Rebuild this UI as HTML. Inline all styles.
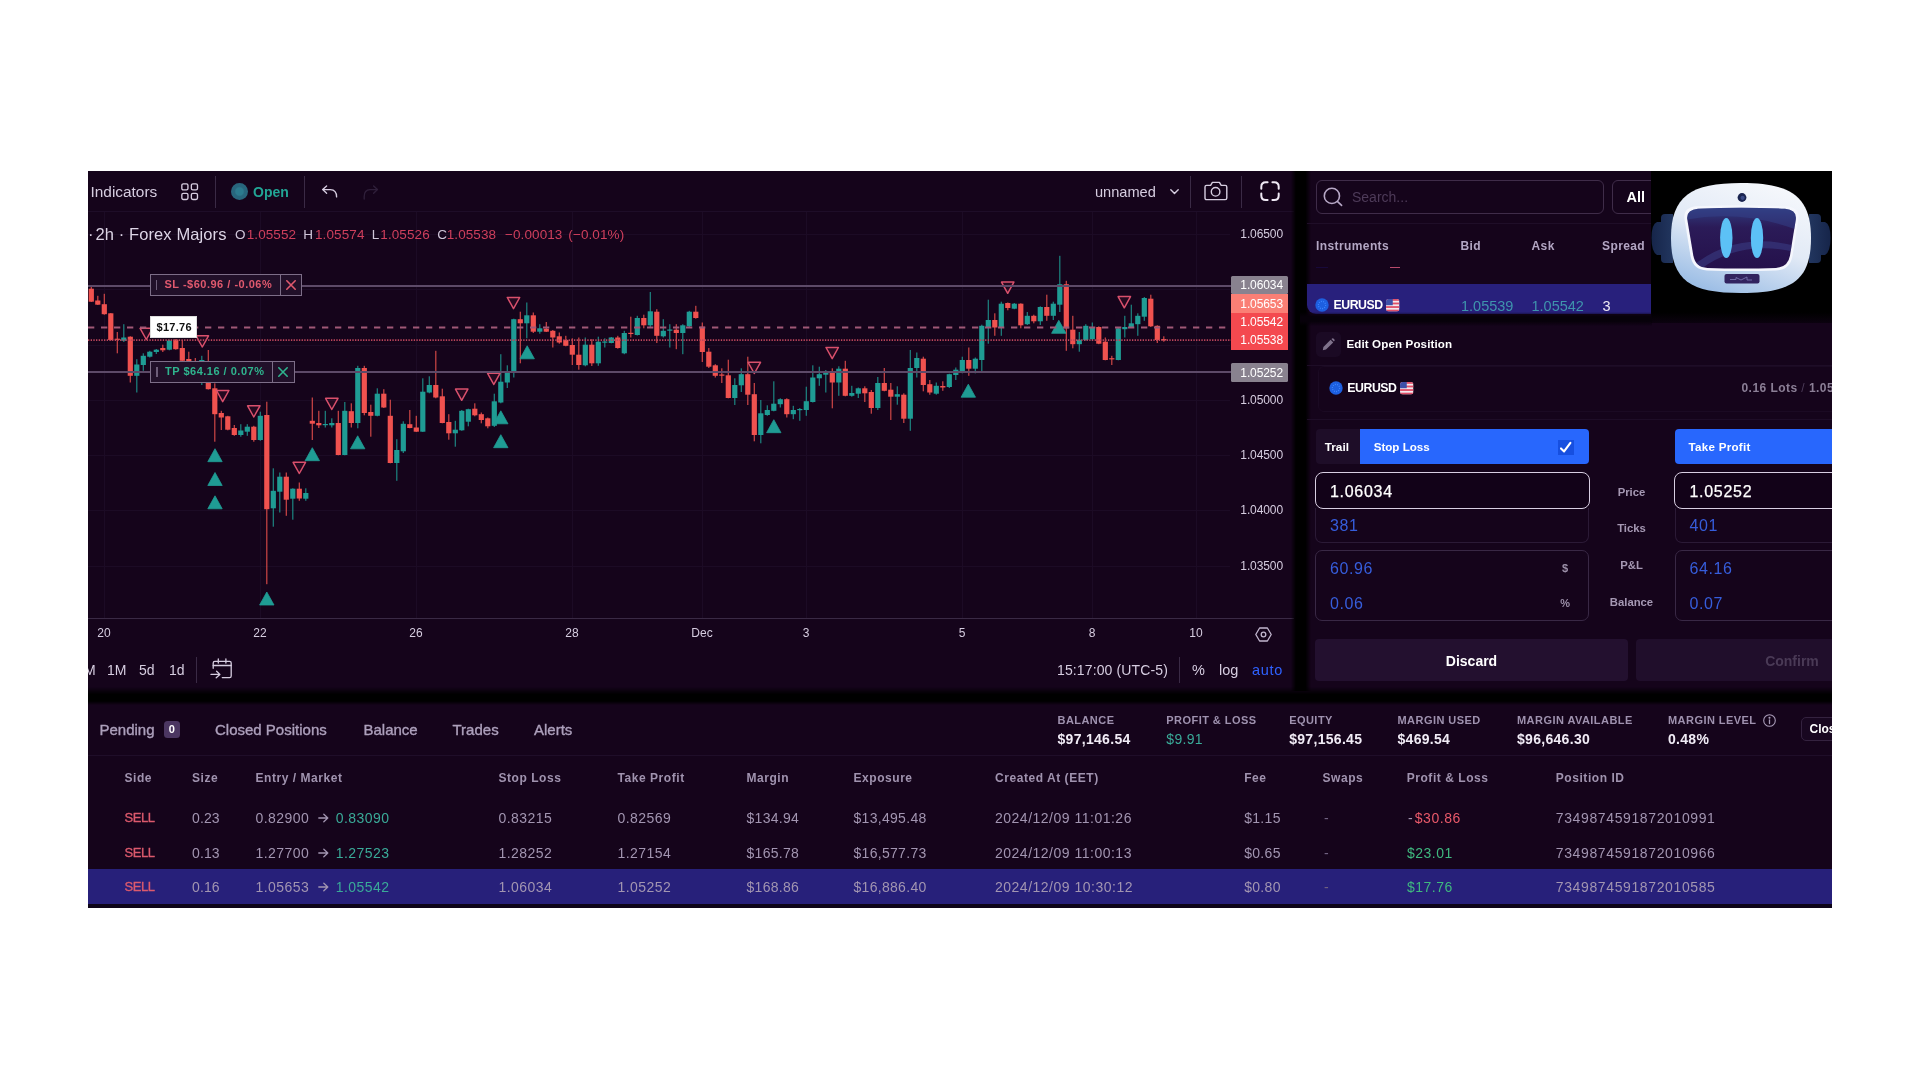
<!DOCTYPE html><html><head><meta charset="utf-8"><title>Trading</title><style>
*{margin:0;padding:0;box-sizing:border-box}
html,body{width:1920px;height:1080px;background:#fff;overflow:hidden}
body{font-family:"Liberation Sans",sans-serif;position:relative}
.a{position:absolute}
.t{position:absolute;white-space:nowrap}
svg{position:absolute;overflow:visible}
</style></head><body><div class="a" style="left:0;top:0;width:1832px;height:908px;overflow:hidden;will-change:transform;filter:blur(0.6px);clip-path:inset(171px 0 0 88px)">
<div class="a" style="left:88px;top:171px;width:1744px;height:737px;background:#15041b;"></div>
<div class="a" style="left:88px;top:211px;width:1206px;height:1px;background:#1e0d28;"></div>
<div class="a" style="left:104px;top:212px;width:1px;height:406px;background:#1c0b25;"></div>
<div class="a" style="left:260px;top:212px;width:1px;height:406px;background:#1c0b25;"></div>
<div class="a" style="left:416px;top:212px;width:1px;height:406px;background:#1c0b25;"></div>
<div class="a" style="left:572px;top:212px;width:1px;height:406px;background:#1c0b25;"></div>
<div class="a" style="left:702px;top:212px;width:1px;height:406px;background:#1c0b25;"></div>
<div class="a" style="left:806px;top:212px;width:1px;height:406px;background:#1c0b25;"></div>
<div class="a" style="left:962px;top:212px;width:1px;height:406px;background:#1c0b25;"></div>
<div class="a" style="left:1092px;top:212px;width:1px;height:406px;background:#1c0b25;"></div>
<div class="a" style="left:1196px;top:212px;width:1px;height:406px;background:#1c0b25;"></div>
<div class="a" style="left:88px;top:234px;width:1142px;height:1px;background:#1c0b25;"></div>
<div class="a" style="left:88px;top:289px;width:1142px;height:1px;background:#1c0b25;"></div>
<div class="a" style="left:88px;top:345px;width:1142px;height:1px;background:#1c0b25;"></div>
<div class="a" style="left:88px;top:400px;width:1142px;height:1px;background:#1c0b25;"></div>
<div class="a" style="left:88px;top:455px;width:1142px;height:1px;background:#1c0b25;"></div>
<div class="a" style="left:88px;top:510px;width:1142px;height:1px;background:#1c0b25;"></div>
<div class="a" style="left:88px;top:566px;width:1142px;height:1px;background:#1c0b25;"></div>
<div class="a" style="left:88px;top:618px;width:1206px;height:1px;background:#3a2a45;"></div>
<svg style="left:0;top:0" width="1300" height="620" viewBox="0 0 1300 620" shape-rendering="auto"><rect x="90.7" y="285.0" width="1.2" height="17.0" fill="#f0524f" opacity="0.85"/><rect x="88.7" y="288.7" width="5.2" height="13.0" fill="#f0524f"/><rect x="97.2" y="295.8" width="1.2" height="9.2" fill="#f0524f" opacity="0.85"/><rect x="95.2" y="300.5" width="5.2" height="4.2" fill="#f0524f"/><rect x="103.7" y="293.8" width="1.2" height="20.9" fill="#f0524f" opacity="0.85"/><rect x="101.7" y="304.2" width="5.2" height="10.0" fill="#f0524f"/><rect x="110.2" y="313.0" width="1.2" height="27.8" fill="#f0524f" opacity="0.85"/><rect x="108.2" y="313.3" width="5.2" height="26.7" fill="#f0524f"/><rect x="116.7" y="332.0" width="1.2" height="21.3" fill="#f0524f" opacity="0.85"/><rect x="114.7" y="338.7" width="5.2" height="1.2" fill="#f0524f"/><rect x="123.2" y="324.2" width="1.2" height="17.8" fill="#1f9c94" opacity="0.85"/><rect x="121.2" y="337.5" width="5.2" height="3.3" fill="#1f9c94"/><rect x="129.7" y="336.3" width="1.2" height="46.2" fill="#f0524f" opacity="0.85"/><rect x="127.7" y="336.7" width="5.2" height="39.1" fill="#f0524f"/><rect x="136.2" y="359.2" width="1.2" height="33.3" fill="#1f9c94" opacity="0.85"/><rect x="134.2" y="364.5" width="5.2" height="11.3" fill="#1f9c94"/><rect x="142.7" y="353.3" width="1.2" height="17.5" fill="#1f9c94" opacity="0.85"/><rect x="140.7" y="355.8" width="5.2" height="9.2" fill="#1f9c94"/><rect x="149.2" y="350.8" width="1.2" height="6.7" fill="#1f9c94" opacity="0.85"/><rect x="147.2" y="351.7" width="5.2" height="5.0" fill="#1f9c94"/><rect x="155.7" y="349.0" width="1.2" height="5.0" fill="#1f9c94" opacity="0.85"/><rect x="153.7" y="349.7" width="5.2" height="2.3" fill="#1f9c94"/><rect x="162.2" y="344.7" width="1.2" height="7.3" fill="#f0524f" opacity="0.85"/><rect x="160.2" y="348.0" width="5.2" height="2.3" fill="#f0524f"/><rect x="168.7" y="339.7" width="1.2" height="10.6" fill="#1f9c94" opacity="0.85"/><rect x="166.7" y="340.5" width="5.2" height="9.2" fill="#1f9c94"/><rect x="175.2" y="339.2" width="1.2" height="10.5" fill="#f0524f" opacity="0.85"/><rect x="173.2" y="339.7" width="5.2" height="9.5" fill="#f0524f"/><rect x="181.7" y="340.0" width="1.2" height="21.0" fill="#f0524f" opacity="0.85"/><rect x="179.7" y="348.0" width="5.2" height="12.8" fill="#f0524f"/><rect x="188.2" y="351.7" width="1.2" height="10.3" fill="#f0524f" opacity="0.85"/><rect x="186.2" y="359.0" width="5.2" height="2.7" fill="#f0524f"/><rect x="194.7" y="358.0" width="1.2" height="8.0" fill="#f0524f" opacity="0.85"/><rect x="192.7" y="361.0" width="5.2" height="2.0" fill="#f0524f"/><rect x="201.2" y="355.8" width="1.2" height="29.2" fill="#1f9c94" opacity="0.85"/><rect x="199.2" y="360.0" width="5.2" height="3.0" fill="#1f9c94"/><rect x="207.7" y="350.0" width="1.2" height="39.5" fill="#f0524f" opacity="0.85"/><rect x="205.7" y="381.7" width="5.2" height="7.5" fill="#f0524f"/><rect x="214.2" y="383.3" width="1.2" height="58.4" fill="#f0524f" opacity="0.85"/><rect x="212.2" y="388.3" width="5.2" height="25.9" fill="#f0524f"/><rect x="220.7" y="410.8" width="1.2" height="19.2" fill="#f0524f" opacity="0.85"/><rect x="218.7" y="413.0" width="5.2" height="4.5" fill="#f0524f"/><rect x="227.2" y="415.8" width="1.2" height="14.5" fill="#f0524f" opacity="0.85"/><rect x="225.2" y="416.3" width="5.2" height="13.4" fill="#f0524f"/><rect x="233.7" y="425.0" width="1.2" height="10.8" fill="#f0524f" opacity="0.85"/><rect x="231.7" y="428.0" width="5.2" height="7.0" fill="#f0524f"/><rect x="240.2" y="424.2" width="1.2" height="12.5" fill="#1f9c94" opacity="0.85"/><rect x="238.2" y="430.5" width="5.2" height="4.5" fill="#1f9c94"/><rect x="246.7" y="424.2" width="1.2" height="11.6" fill="#1f9c94" opacity="0.85"/><rect x="244.7" y="426.7" width="5.2" height="5.0" fill="#1f9c94"/><rect x="253.2" y="425.8" width="1.2" height="15.9" fill="#f0524f" opacity="0.85"/><rect x="251.2" y="426.7" width="5.2" height="13.3" fill="#f0524f"/><rect x="259.7" y="411.7" width="1.2" height="29.1" fill="#1f9c94" opacity="0.85"/><rect x="257.7" y="415.8" width="5.2" height="24.2" fill="#1f9c94"/><rect x="266.2" y="401.7" width="1.2" height="182.5" fill="#f0524f" opacity="0.85"/><rect x="264.2" y="415.0" width="5.2" height="94.2" fill="#f0524f"/><rect x="272.7" y="468.3" width="1.2" height="58.4" fill="#1f9c94" opacity="0.85"/><rect x="270.7" y="490.8" width="5.2" height="17.5" fill="#1f9c94"/><rect x="279.2" y="472.5" width="1.2" height="40.0" fill="#1f9c94" opacity="0.85"/><rect x="277.2" y="476.7" width="5.2" height="15.0" fill="#1f9c94"/><rect x="285.7" y="472.5" width="1.2" height="43.3" fill="#f0524f" opacity="0.85"/><rect x="283.7" y="476.7" width="5.2" height="23.0" fill="#f0524f"/><rect x="292.2" y="488.3" width="1.2" height="31.4" fill="#1f9c94" opacity="0.85"/><rect x="290.2" y="488.7" width="5.2" height="10.0" fill="#1f9c94"/><rect x="298.7" y="482.5" width="1.2" height="18.3" fill="#f0524f" opacity="0.85"/><rect x="296.7" y="488.7" width="5.2" height="9.8" fill="#f0524f"/><rect x="305.2" y="488.3" width="1.2" height="12.5" fill="#1f9c94" opacity="0.85"/><rect x="303.2" y="493.0" width="5.2" height="5.7" fill="#1f9c94"/><rect x="311.7" y="397.5" width="1.2" height="42.5" fill="#f0524f" opacity="0.85"/><rect x="309.7" y="420.8" width="5.2" height="2.9" fill="#f0524f"/><rect x="318.2" y="410.8" width="1.2" height="17.2" fill="#f0524f" opacity="0.85"/><rect x="316.2" y="423.0" width="5.2" height="2.3" fill="#f0524f"/><rect x="324.7" y="410.8" width="1.2" height="16.7" fill="#1f9c94" opacity="0.85"/><rect x="322.7" y="424.0" width="5.2" height="1.2" fill="#1f9c94"/><rect x="331.2" y="418.3" width="1.2" height="9.2" fill="#1f9c94" opacity="0.85"/><rect x="329.2" y="423.0" width="5.2" height="2.3" fill="#1f9c94"/><rect x="337.7" y="410.8" width="1.2" height="44.5" fill="#f0524f" opacity="0.85"/><rect x="335.7" y="423.0" width="5.2" height="32.0" fill="#f0524f"/><rect x="344.2" y="402.0" width="1.2" height="53.3" fill="#1f9c94" opacity="0.85"/><rect x="342.2" y="410.8" width="5.2" height="44.2" fill="#1f9c94"/><rect x="350.7" y="403.3" width="1.2" height="24.2" fill="#f0524f" opacity="0.85"/><rect x="348.7" y="411.2" width="5.2" height="11.8" fill="#f0524f"/><rect x="357.2" y="365.8" width="1.2" height="62.5" fill="#1f9c94" opacity="0.85"/><rect x="355.2" y="368.0" width="5.2" height="55.0" fill="#1f9c94"/><rect x="363.7" y="365.8" width="1.2" height="49.5" fill="#f0524f" opacity="0.85"/><rect x="361.7" y="368.0" width="5.2" height="45.0" fill="#f0524f"/><rect x="370.2" y="404.7" width="1.2" height="32.0" fill="#f0524f" opacity="0.85"/><rect x="368.2" y="412.0" width="5.2" height="3.8" fill="#f0524f"/><rect x="376.7" y="388.3" width="1.2" height="28.0" fill="#1f9c94" opacity="0.85"/><rect x="374.7" y="393.7" width="5.2" height="22.1" fill="#1f9c94"/><rect x="383.2" y="389.2" width="1.2" height="18.8" fill="#f0524f" opacity="0.85"/><rect x="381.2" y="393.7" width="5.2" height="13.8" fill="#f0524f"/><rect x="389.7" y="399.7" width="1.2" height="63.6" fill="#f0524f" opacity="0.85"/><rect x="387.7" y="415.8" width="5.2" height="47.2" fill="#f0524f"/><rect x="396.2" y="439.2" width="1.2" height="41.6" fill="#1f9c94" opacity="0.85"/><rect x="394.2" y="450.0" width="5.2" height="13.0" fill="#1f9c94"/><rect x="402.7" y="421.3" width="1.2" height="31.7" fill="#1f9c94" opacity="0.85"/><rect x="400.7" y="423.8" width="5.2" height="27.5" fill="#1f9c94"/><rect x="409.2" y="410.0" width="1.2" height="18.3" fill="#f0524f" opacity="0.85"/><rect x="407.2" y="424.2" width="5.2" height="3.8" fill="#f0524f"/><rect x="415.7" y="415.8" width="1.2" height="16.2" fill="#f0524f" opacity="0.85"/><rect x="413.7" y="427.5" width="5.2" height="4.2" fill="#f0524f"/><rect x="422.2" y="378.3" width="1.2" height="53.7" fill="#1f9c94" opacity="0.85"/><rect x="420.2" y="391.7" width="5.2" height="40.0" fill="#1f9c94"/><rect x="428.7" y="376.3" width="1.2" height="17.0" fill="#1f9c94" opacity="0.85"/><rect x="426.7" y="385.0" width="5.2" height="7.5" fill="#1f9c94"/><rect x="435.2" y="350.8" width="1.2" height="47.5" fill="#f0524f" opacity="0.85"/><rect x="433.2" y="385.0" width="5.2" height="12.5" fill="#f0524f"/><rect x="441.7" y="388.7" width="1.2" height="34.6" fill="#f0524f" opacity="0.85"/><rect x="439.7" y="396.3" width="5.2" height="26.7" fill="#f0524f"/><rect x="448.2" y="414.2" width="1.2" height="25.5" fill="#f0524f" opacity="0.85"/><rect x="446.2" y="422.0" width="5.2" height="11.3" fill="#f0524f"/><rect x="454.7" y="420.8" width="1.2" height="25.9" fill="#1f9c94" opacity="0.85"/><rect x="452.7" y="429.7" width="5.2" height="3.6" fill="#1f9c94"/><rect x="461.2" y="410.0" width="1.2" height="20.8" fill="#1f9c94" opacity="0.85"/><rect x="459.2" y="410.8" width="5.2" height="19.5" fill="#1f9c94"/><rect x="467.7" y="408.7" width="1.2" height="17.6" fill="#1f9c94" opacity="0.85"/><rect x="465.7" y="409.2" width="5.2" height="12.5" fill="#1f9c94"/><rect x="474.2" y="403.3" width="1.2" height="13.0" fill="#f0524f" opacity="0.85"/><rect x="472.2" y="408.7" width="5.2" height="6.6" fill="#f0524f"/><rect x="480.7" y="412.5" width="1.2" height="10.8" fill="#f0524f" opacity="0.85"/><rect x="478.7" y="414.2" width="5.2" height="5.8" fill="#f0524f"/><rect x="487.2" y="417.5" width="1.2" height="10.8" fill="#f0524f" opacity="0.85"/><rect x="485.2" y="418.3" width="5.2" height="8.0" fill="#f0524f"/><rect x="493.7" y="393.7" width="1.2" height="33.3" fill="#1f9c94" opacity="0.85"/><rect x="491.7" y="401.3" width="5.2" height="24.5" fill="#1f9c94"/><rect x="500.2" y="354.2" width="1.2" height="49.1" fill="#1f9c94" opacity="0.85"/><rect x="498.2" y="381.7" width="5.2" height="20.8" fill="#1f9c94"/><rect x="506.7" y="365.3" width="1.2" height="22.7" fill="#1f9c94" opacity="0.85"/><rect x="504.7" y="371.2" width="5.2" height="11.3" fill="#1f9c94"/><rect x="513.2" y="318.7" width="1.2" height="58.8" fill="#1f9c94" opacity="0.85"/><rect x="511.2" y="319.2" width="5.2" height="52.8" fill="#1f9c94"/><rect x="519.7" y="311.7" width="1.2" height="51.6" fill="#f0524f" opacity="0.85"/><rect x="517.7" y="319.2" width="5.2" height="4.1" fill="#f0524f"/><rect x="526.2" y="302.5" width="1.2" height="35.8" fill="#1f9c94" opacity="0.85"/><rect x="524.2" y="315.3" width="5.2" height="8.0" fill="#1f9c94"/><rect x="532.7" y="312.5" width="1.2" height="20.5" fill="#f0524f" opacity="0.85"/><rect x="530.7" y="315.3" width="5.2" height="16.4" fill="#f0524f"/><rect x="539.2" y="324.2" width="1.2" height="9.5" fill="#1f9c94" opacity="0.85"/><rect x="537.2" y="328.3" width="5.2" height="3.4" fill="#1f9c94"/><rect x="545.7" y="322.0" width="1.2" height="10.0" fill="#f0524f" opacity="0.85"/><rect x="543.7" y="328.7" width="5.2" height="3.0" fill="#f0524f"/><rect x="552.2" y="330.0" width="1.2" height="17.5" fill="#f0524f" opacity="0.85"/><rect x="550.2" y="330.8" width="5.2" height="6.7" fill="#f0524f"/><rect x="558.7" y="332.5" width="1.2" height="11.2" fill="#f0524f" opacity="0.85"/><rect x="556.7" y="336.3" width="5.2" height="6.2" fill="#f0524f"/><rect x="565.2" y="335.8" width="1.2" height="10.5" fill="#f0524f" opacity="0.85"/><rect x="563.2" y="340.0" width="5.2" height="5.8" fill="#f0524f"/><rect x="571.7" y="338.3" width="1.2" height="26.7" fill="#f0524f" opacity="0.85"/><rect x="569.7" y="345.0" width="5.2" height="9.7" fill="#f0524f"/><rect x="578.2" y="337.5" width="1.2" height="32.2" fill="#f0524f" opacity="0.85"/><rect x="576.2" y="354.7" width="5.2" height="10.3" fill="#f0524f"/><rect x="584.7" y="337.5" width="1.2" height="28.8" fill="#1f9c94" opacity="0.85"/><rect x="582.7" y="344.7" width="5.2" height="20.6" fill="#1f9c94"/><rect x="591.2" y="339.2" width="1.2" height="26.8" fill="#f0524f" opacity="0.85"/><rect x="589.2" y="344.7" width="5.2" height="18.6" fill="#f0524f"/><rect x="597.7" y="336.7" width="1.2" height="29.1" fill="#1f9c94" opacity="0.85"/><rect x="595.7" y="341.7" width="5.2" height="21.6" fill="#1f9c94"/><rect x="604.2" y="338.3" width="1.2" height="9.2" fill="#1f9c94" opacity="0.85"/><rect x="602.2" y="341.5" width="5.2" height="1.2" fill="#1f9c94"/><rect x="610.7" y="337.0" width="1.2" height="6.3" fill="#1f9c94" opacity="0.85"/><rect x="608.7" y="337.5" width="5.2" height="5.5" fill="#1f9c94"/><rect x="617.2" y="335.8" width="1.2" height="12.9" fill="#f0524f" opacity="0.85"/><rect x="615.2" y="337.5" width="5.2" height="10.5" fill="#f0524f"/><rect x="623.7" y="330.8" width="1.2" height="23.4" fill="#1f9c94" opacity="0.85"/><rect x="621.7" y="333.0" width="5.2" height="20.3" fill="#1f9c94"/><rect x="630.2" y="316.7" width="1.2" height="20.8" fill="#f0524f" opacity="0.85"/><rect x="628.2" y="332.8" width="5.2" height="1.2" fill="#f0524f"/><rect x="636.7" y="315.8" width="1.2" height="19.7" fill="#1f9c94" opacity="0.85"/><rect x="634.7" y="318.0" width="5.2" height="17.0" fill="#1f9c94"/><rect x="643.2" y="314.7" width="1.2" height="13.6" fill="#f0524f" opacity="0.85"/><rect x="641.2" y="318.0" width="5.2" height="7.3" fill="#f0524f"/><rect x="649.7" y="292.0" width="1.2" height="35.5" fill="#1f9c94" opacity="0.85"/><rect x="647.7" y="311.3" width="5.2" height="14.0" fill="#1f9c94"/><rect x="656.2" y="309.2" width="1.2" height="33.8" fill="#f0524f" opacity="0.85"/><rect x="654.2" y="311.7" width="5.2" height="24.1" fill="#f0524f"/><rect x="662.7" y="319.2" width="1.2" height="18.3" fill="#1f9c94" opacity="0.85"/><rect x="660.7" y="330.8" width="5.2" height="5.5" fill="#1f9c94"/><rect x="669.2" y="324.2" width="1.2" height="23.3" fill="#1f9c94" opacity="0.85"/><rect x="667.2" y="329.5" width="5.2" height="1.2" fill="#1f9c94"/><rect x="675.7" y="324.2" width="1.2" height="25.0" fill="#f0524f" opacity="0.85"/><rect x="673.7" y="329.7" width="5.2" height="3.3" fill="#f0524f"/><rect x="682.2" y="324.2" width="1.2" height="30.0" fill="#1f9c94" opacity="0.85"/><rect x="680.2" y="325.3" width="5.2" height="7.7" fill="#1f9c94"/><rect x="688.7" y="310.8" width="1.2" height="16.2" fill="#1f9c94" opacity="0.85"/><rect x="686.7" y="311.7" width="5.2" height="14.6" fill="#1f9c94"/><rect x="695.2" y="305.8" width="1.2" height="12.9" fill="#f0524f" opacity="0.85"/><rect x="693.2" y="311.7" width="5.2" height="6.3" fill="#f0524f"/><rect x="701.7" y="322.5" width="1.2" height="39.5" fill="#f0524f" opacity="0.85"/><rect x="699.7" y="326.7" width="5.2" height="25.3" fill="#f0524f"/><rect x="708.2" y="348.0" width="1.2" height="20.0" fill="#f0524f" opacity="0.85"/><rect x="706.2" y="351.7" width="5.2" height="15.0" fill="#f0524f"/><rect x="714.7" y="364.2" width="1.2" height="13.3" fill="#f0524f" opacity="0.85"/><rect x="712.7" y="365.3" width="5.2" height="10.5" fill="#f0524f"/><rect x="721.2" y="368.3" width="1.2" height="14.7" fill="#f0524f" opacity="0.85"/><rect x="719.2" y="374.5" width="5.2" height="1.2" fill="#f0524f"/><rect x="727.7" y="359.7" width="1.2" height="38.6" fill="#f0524f" opacity="0.85"/><rect x="725.7" y="375.3" width="5.2" height="22.7" fill="#f0524f"/><rect x="734.2" y="378.3" width="1.2" height="26.7" fill="#1f9c94" opacity="0.85"/><rect x="732.2" y="385.0" width="5.2" height="13.0" fill="#1f9c94"/><rect x="740.7" y="368.3" width="1.2" height="23.7" fill="#1f9c94" opacity="0.85"/><rect x="738.7" y="374.2" width="5.2" height="11.1" fill="#1f9c94"/><rect x="747.2" y="356.7" width="1.2" height="48.3" fill="#f0524f" opacity="0.85"/><rect x="745.2" y="374.2" width="5.2" height="20.5" fill="#f0524f"/><rect x="753.7" y="383.0" width="1.2" height="58.3" fill="#f0524f" opacity="0.85"/><rect x="751.7" y="394.2" width="5.2" height="40.8" fill="#f0524f"/><rect x="760.2" y="400.0" width="1.2" height="43.3" fill="#1f9c94" opacity="0.85"/><rect x="758.2" y="413.3" width="5.2" height="21.7" fill="#1f9c94"/><rect x="766.7" y="405.3" width="1.2" height="10.5" fill="#1f9c94" opacity="0.85"/><rect x="764.7" y="410.0" width="5.2" height="5.0" fill="#1f9c94"/><rect x="773.2" y="381.3" width="1.2" height="30.0" fill="#1f9c94" opacity="0.85"/><rect x="771.2" y="403.7" width="5.2" height="7.1" fill="#1f9c94"/><rect x="779.7" y="398.3" width="1.2" height="9.2" fill="#1f9c94" opacity="0.85"/><rect x="777.7" y="399.2" width="5.2" height="5.0" fill="#1f9c94"/><rect x="786.2" y="398.3" width="1.2" height="19.2" fill="#f0524f" opacity="0.85"/><rect x="784.2" y="399.2" width="5.2" height="15.0" fill="#f0524f"/><rect x="792.7" y="405.8" width="1.2" height="13.4" fill="#1f9c94" opacity="0.85"/><rect x="790.7" y="410.0" width="5.2" height="4.2" fill="#1f9c94"/><rect x="799.2" y="408.0" width="1.2" height="12.8" fill="#1f9c94" opacity="0.85"/><rect x="797.2" y="409.0" width="5.2" height="1.2" fill="#1f9c94"/><rect x="805.7" y="386.7" width="1.2" height="29.1" fill="#1f9c94" opacity="0.85"/><rect x="803.7" y="401.2" width="5.2" height="8.8" fill="#1f9c94"/><rect x="812.2" y="365.3" width="1.2" height="37.2" fill="#1f9c94" opacity="0.85"/><rect x="810.2" y="377.5" width="5.2" height="24.5" fill="#1f9c94"/><rect x="818.7" y="366.7" width="1.2" height="19.1" fill="#1f9c94" opacity="0.85"/><rect x="816.7" y="374.2" width="5.2" height="4.1" fill="#1f9c94"/><rect x="825.2" y="370.0" width="1.2" height="22.5" fill="#1f9c94" opacity="0.85"/><rect x="823.2" y="372.0" width="5.2" height="2.7" fill="#1f9c94"/><rect x="831.7" y="368.3" width="1.2" height="40.0" fill="#f0524f" opacity="0.85"/><rect x="829.7" y="372.0" width="5.2" height="10.5" fill="#f0524f"/><rect x="838.2" y="366.3" width="1.2" height="29.5" fill="#1f9c94" opacity="0.85"/><rect x="836.2" y="368.7" width="5.2" height="13.8" fill="#1f9c94"/><rect x="844.7" y="360.8" width="1.2" height="35.5" fill="#f0524f" opacity="0.85"/><rect x="842.7" y="368.7" width="5.2" height="27.1" fill="#f0524f"/><rect x="851.2" y="385.8" width="1.2" height="10.9" fill="#1f9c94" opacity="0.85"/><rect x="849.2" y="393.0" width="5.2" height="2.8" fill="#1f9c94"/><rect x="857.7" y="387.5" width="1.2" height="10.5" fill="#1f9c94" opacity="0.85"/><rect x="855.7" y="388.3" width="5.2" height="5.4" fill="#1f9c94"/><rect x="864.2" y="386.3" width="1.2" height="15.7" fill="#f0524f" opacity="0.85"/><rect x="862.2" y="388.3" width="5.2" height="5.0" fill="#f0524f"/><rect x="870.7" y="390.0" width="1.2" height="23.7" fill="#f0524f" opacity="0.85"/><rect x="868.7" y="392.0" width="5.2" height="16.0" fill="#f0524f"/><rect x="877.2" y="377.0" width="1.2" height="33.0" fill="#1f9c94" opacity="0.85"/><rect x="875.2" y="383.0" width="5.2" height="25.0" fill="#1f9c94"/><rect x="883.7" y="368.0" width="1.2" height="23.3" fill="#f0524f" opacity="0.85"/><rect x="881.7" y="383.0" width="5.2" height="7.8" fill="#f0524f"/><rect x="890.2" y="383.0" width="1.2" height="37.0" fill="#f0524f" opacity="0.85"/><rect x="888.2" y="389.7" width="5.2" height="7.0" fill="#f0524f"/><rect x="896.7" y="386.3" width="1.2" height="18.4" fill="#1f9c94" opacity="0.85"/><rect x="894.7" y="394.2" width="5.2" height="2.5" fill="#1f9c94"/><rect x="903.2" y="393.3" width="1.2" height="29.7" fill="#f0524f" opacity="0.85"/><rect x="901.2" y="394.7" width="5.2" height="24.0" fill="#f0524f"/><rect x="909.7" y="350.0" width="1.2" height="80.8" fill="#1f9c94" opacity="0.85"/><rect x="907.7" y="368.0" width="5.2" height="50.7" fill="#1f9c94"/><rect x="916.2" y="352.5" width="1.2" height="25.0" fill="#1f9c94" opacity="0.85"/><rect x="914.2" y="358.0" width="5.2" height="10.0" fill="#1f9c94"/><rect x="922.7" y="356.7" width="1.2" height="34.6" fill="#f0524f" opacity="0.85"/><rect x="920.7" y="358.7" width="5.2" height="26.3" fill="#f0524f"/><rect x="929.2" y="380.0" width="1.2" height="14.7" fill="#f0524f" opacity="0.85"/><rect x="927.2" y="384.2" width="5.2" height="8.3" fill="#f0524f"/><rect x="935.7" y="382.5" width="1.2" height="12.2" fill="#1f9c94" opacity="0.85"/><rect x="933.7" y="385.8" width="5.2" height="7.9" fill="#1f9c94"/><rect x="942.2" y="381.3" width="1.2" height="9.5" fill="#f0524f" opacity="0.85"/><rect x="940.2" y="386.0" width="5.2" height="1.5" fill="#f0524f"/><rect x="948.7" y="373.7" width="1.2" height="14.3" fill="#1f9c94" opacity="0.85"/><rect x="946.7" y="374.2" width="5.2" height="12.8" fill="#1f9c94"/><rect x="955.2" y="367.5" width="1.2" height="12.5" fill="#1f9c94" opacity="0.85"/><rect x="953.2" y="369.7" width="5.2" height="5.3" fill="#1f9c94"/><rect x="961.7" y="356.7" width="1.2" height="16.6" fill="#1f9c94" opacity="0.85"/><rect x="959.7" y="360.0" width="5.2" height="11.3" fill="#1f9c94"/><rect x="968.2" y="347.5" width="1.2" height="28.3" fill="#f0524f" opacity="0.85"/><rect x="966.2" y="360.0" width="5.2" height="8.7" fill="#f0524f"/><rect x="974.7" y="357.5" width="1.2" height="15.8" fill="#1f9c94" opacity="0.85"/><rect x="972.7" y="358.7" width="5.2" height="10.0" fill="#1f9c94"/><rect x="981.2" y="324.7" width="1.2" height="47.8" fill="#1f9c94" opacity="0.85"/><rect x="979.2" y="325.8" width="5.2" height="34.2" fill="#1f9c94"/><rect x="987.7" y="299.7" width="1.2" height="44.0" fill="#1f9c94" opacity="0.85"/><rect x="985.7" y="320.0" width="5.2" height="7.0" fill="#1f9c94"/><rect x="994.2" y="313.3" width="1.2" height="22.5" fill="#f0524f" opacity="0.85"/><rect x="992.2" y="320.0" width="5.2" height="7.5" fill="#f0524f"/><rect x="1000.7" y="301.7" width="1.2" height="34.1" fill="#1f9c94" opacity="0.85"/><rect x="998.7" y="303.7" width="5.2" height="23.3" fill="#1f9c94"/><rect x="1007.2" y="302.5" width="1.2" height="7.8" fill="#f0524f" opacity="0.85"/><rect x="1005.2" y="303.0" width="5.2" height="5.0" fill="#f0524f"/><rect x="1013.7" y="303.0" width="1.2" height="6.2" fill="#1f9c94" opacity="0.85"/><rect x="1011.7" y="303.7" width="5.2" height="5.0" fill="#1f9c94"/><rect x="1020.2" y="303.3" width="1.2" height="25.0" fill="#f0524f" opacity="0.85"/><rect x="1018.2" y="303.7" width="5.2" height="21.6" fill="#f0524f"/><rect x="1026.7" y="312.0" width="1.2" height="13.0" fill="#1f9c94" opacity="0.85"/><rect x="1024.7" y="315.8" width="5.2" height="8.4" fill="#1f9c94"/><rect x="1033.2" y="314.7" width="1.2" height="8.6" fill="#f0524f" opacity="0.85"/><rect x="1031.2" y="315.8" width="5.2" height="5.5" fill="#f0524f"/><rect x="1039.7" y="306.3" width="1.2" height="18.7" fill="#1f9c94" opacity="0.85"/><rect x="1037.7" y="307.0" width="5.2" height="14.3" fill="#1f9c94"/><rect x="1046.2" y="294.7" width="1.2" height="26.1" fill="#f0524f" opacity="0.85"/><rect x="1044.2" y="307.0" width="5.2" height="8.8" fill="#f0524f"/><rect x="1052.7" y="301.7" width="1.2" height="18.3" fill="#1f9c94" opacity="0.85"/><rect x="1050.7" y="303.7" width="5.2" height="12.1" fill="#1f9c94"/><rect x="1059.2" y="255.8" width="1.2" height="56.2" fill="#1f9c94" opacity="0.85"/><rect x="1057.2" y="284.2" width="5.2" height="20.5" fill="#1f9c94"/><rect x="1065.7" y="280.8" width="1.2" height="70.0" fill="#f0524f" opacity="0.85"/><rect x="1063.7" y="284.2" width="5.2" height="44.1" fill="#f0524f"/><rect x="1072.2" y="315.8" width="1.2" height="32.5" fill="#f0524f" opacity="0.85"/><rect x="1070.2" y="329.7" width="5.2" height="14.5" fill="#f0524f"/><rect x="1078.7" y="332.0" width="1.2" height="19.7" fill="#1f9c94" opacity="0.85"/><rect x="1076.7" y="339.7" width="5.2" height="4.5" fill="#1f9c94"/><rect x="1085.2" y="324.2" width="1.2" height="16.6" fill="#1f9c94" opacity="0.85"/><rect x="1083.2" y="325.8" width="5.2" height="14.2" fill="#1f9c94"/><rect x="1091.7" y="322.5" width="1.2" height="18.3" fill="#1f9c94" opacity="0.85"/><rect x="1089.7" y="327.5" width="5.2" height="11.7" fill="#1f9c94"/><rect x="1098.2" y="326.3" width="1.2" height="17.9" fill="#f0524f" opacity="0.85"/><rect x="1096.2" y="327.0" width="5.2" height="16.7" fill="#f0524f"/><rect x="1104.7" y="337.5" width="1.2" height="22.8" fill="#f0524f" opacity="0.85"/><rect x="1102.7" y="341.7" width="5.2" height="18.3" fill="#f0524f"/><rect x="1111.2" y="355.8" width="1.2" height="9.2" fill="#f0524f" opacity="0.85"/><rect x="1109.2" y="358.2" width="5.2" height="1.2" fill="#f0524f"/><rect x="1117.7" y="327.0" width="1.2" height="33.3" fill="#1f9c94" opacity="0.85"/><rect x="1115.7" y="328.3" width="5.2" height="31.7" fill="#1f9c94"/><rect x="1124.2" y="315.8" width="1.2" height="21.7" fill="#1f9c94" opacity="0.85"/><rect x="1122.2" y="327.0" width="5.2" height="2.2" fill="#1f9c94"/><rect x="1130.7" y="304.7" width="1.2" height="23.3" fill="#1f9c94" opacity="0.85"/><rect x="1128.7" y="323.3" width="5.2" height="4.2" fill="#1f9c94"/><rect x="1137.2" y="313.3" width="1.2" height="22.5" fill="#1f9c94" opacity="0.85"/><rect x="1135.2" y="315.8" width="5.2" height="8.4" fill="#1f9c94"/><rect x="1143.7" y="297.0" width="1.2" height="23.8" fill="#1f9c94" opacity="0.85"/><rect x="1141.7" y="298.0" width="5.2" height="18.7" fill="#1f9c94"/><rect x="1150.2" y="294.7" width="1.2" height="32.3" fill="#f0524f" opacity="0.85"/><rect x="1148.2" y="298.7" width="5.2" height="27.6" fill="#f0524f"/><rect x="1156.7" y="325.3" width="1.2" height="17.7" fill="#f0524f" opacity="0.85"/><rect x="1154.7" y="325.8" width="5.2" height="14.2" fill="#f0524f"/><rect x="1163.2" y="336.3" width="1.2" height="5.4" fill="#f0524f" opacity="0.85"/><rect x="1161.2" y="339.0" width="5.2" height="1.3" fill="#f0524f"/><path d="M140.1 328.3 H152.5 L146.3 339.5 Z" fill="rgba(217,80,108,0.08)" stroke="#d9506c" stroke-width="1.5" stroke-linejoin="round"/><path d="M196.1 335.8 H208.5 L202.3 347.0 Z" fill="rgba(217,80,108,0.08)" stroke="#d9506c" stroke-width="1.5" stroke-linejoin="round"/><path d="M216.5 390.5 H228.9 L222.7 401.7 Z" fill="rgba(217,80,108,0.08)" stroke="#d9506c" stroke-width="1.5" stroke-linejoin="round"/><path d="M247.6 405.8 H260.0 L253.8 417.0 Z" fill="rgba(217,80,108,0.08)" stroke="#d9506c" stroke-width="1.5" stroke-linejoin="round"/><path d="M325.6 398.3 H338.0 L331.8 409.5 Z" fill="rgba(217,80,108,0.08)" stroke="#d9506c" stroke-width="1.5" stroke-linejoin="round"/><path d="M293.1 462.3 H305.5 L299.3 473.5 Z" fill="rgba(217,80,108,0.08)" stroke="#d9506c" stroke-width="1.5" stroke-linejoin="round"/><path d="M507.3 297.5 H519.7 L513.5 308.7 Z" fill="rgba(217,80,108,0.08)" stroke="#d9506c" stroke-width="1.5" stroke-linejoin="round"/><path d="M487.6 373.3 H500.0 L493.8 384.5 Z" fill="rgba(217,80,108,0.08)" stroke="#d9506c" stroke-width="1.5" stroke-linejoin="round"/><path d="M455.5 389.1 H467.9 L461.7 400.3 Z" fill="rgba(217,80,108,0.08)" stroke="#d9506c" stroke-width="1.5" stroke-linejoin="round"/><path d="M748.1 362.3 H760.5 L754.3 373.5 Z" fill="rgba(217,80,108,0.08)" stroke="#d9506c" stroke-width="1.5" stroke-linejoin="round"/><path d="M826.0 347.5 H838.4 L832.2 358.7 Z" fill="rgba(217,80,108,0.08)" stroke="#d9506c" stroke-width="1.5" stroke-linejoin="round"/><path d="M1001.5 282.1 H1013.9 L1007.7 293.3 Z" fill="rgba(217,80,108,0.08)" stroke="#d9506c" stroke-width="1.5" stroke-linejoin="round"/><path d="M1118.1 296.6 H1130.5 L1124.3 307.8 Z" fill="rgba(217,80,108,0.08)" stroke="#d9506c" stroke-width="1.5" stroke-linejoin="round"/><path d="M215.0 448.7 L222.2 461.7 H207.8 Z" fill="#1f9c94" stroke="#1f9c94" stroke-width="0.8" stroke-linejoin="round"/><path d="M215.0 472.5 L222.2 485.5 H207.8 Z" fill="#1f9c94" stroke="#1f9c94" stroke-width="0.8" stroke-linejoin="round"/><path d="M215.0 495.8 L222.2 508.8 H207.8 Z" fill="#1f9c94" stroke="#1f9c94" stroke-width="0.8" stroke-linejoin="round"/><path d="M266.8 592.0 L274.0 605.0 H259.6 Z" fill="#1f9c94" stroke="#1f9c94" stroke-width="0.8" stroke-linejoin="round"/><path d="M312.3 447.7 L319.5 460.7 H305.1 Z" fill="#1f9c94" stroke="#1f9c94" stroke-width="0.8" stroke-linejoin="round"/><path d="M357.7 435.8 L364.9 448.8 H350.5 Z" fill="#1f9c94" stroke="#1f9c94" stroke-width="0.8" stroke-linejoin="round"/><path d="M527.2 345.8 L534.4 358.8 H520.0 Z" fill="#1f9c94" stroke="#1f9c94" stroke-width="0.8" stroke-linejoin="round"/><path d="M500.8 410.8 L508.0 423.8 H493.6 Z" fill="#1f9c94" stroke="#1f9c94" stroke-width="0.8" stroke-linejoin="round"/><path d="M500.8 434.7 L508.0 447.7 H493.6 Z" fill="#1f9c94" stroke="#1f9c94" stroke-width="0.8" stroke-linejoin="round"/><path d="M773.8 419.7 L781.0 432.7 H766.6 Z" fill="#1f9c94" stroke="#1f9c94" stroke-width="0.8" stroke-linejoin="round"/><path d="M968.3 384.2 L975.5 397.2 H961.1 Z" fill="#1f9c94" stroke="#1f9c94" stroke-width="0.8" stroke-linejoin="round"/><path d="M1058.8 320.3 L1066.0 333.3 H1051.6 Z" fill="#1f9c94" stroke="#1f9c94" stroke-width="0.8" stroke-linejoin="round"/></svg>
<div class="a" style="left:88px;top:285px;width:1143px;height:2px;background:#5d4a68;"></div>
<div class="a" style="left:88px;top:371px;width:1143px;height:2px;background:#5d4a68;"></div>
<svg style="left:0;top:0" width="1300" height="400" viewBox="0 0 1300 400"><line x1="88" y1="327.5" x2="1231" y2="327.5" stroke="#a05877" stroke-width="1.9" stroke-dasharray="6.3 6.7"/><line x1="88" y1="340.1" x2="1231" y2="340.1" stroke="#bd465c" stroke-width="1.7" stroke-dasharray="1.33 1.34"/></svg>
<div class="t" style="left:90.5px;top:180.5px;font-size:15.4px;line-height:22px;color:#d6cde0;font-weight:400;">Indicators</div>
<svg style="left:180.8px;top:182.5px" width="17.6" height="17.6" viewBox="0 0 19 19" fill="none" stroke="#d6cde0" stroke-width="1.45"><rect x="0.9" y="0.9" width="6.6" height="6.6" rx="1.6"/><rect x="11.2" y="0.9" width="6.6" height="6.6" rx="1.6"/><rect x="0.9" y="11.2" width="6.6" height="6.6" rx="1.6"/><rect x="11.2" y="11.2" width="6.6" height="6.6" rx="1.6"/></svg>
<div class="a" style="left:214.5px;top:176px;width:1px;height:32px;background:#3a2a45;"></div>
<div class="a" style="left:231px;top:183px;width:17px;height:17px;border-radius:50%;background:radial-gradient(circle,#2c7a8e 0 30%,#28667d 42% 82%,#34708a 100%)"></div>
<div class="t" style="left:253px;top:181.5px;font-size:14px;line-height:20px;color:#22a595;font-weight:700;">Open</div>
<div class="a" style="left:304px;top:176px;width:1px;height:32px;background:#3a2a45;"></div>
<svg style="left:320px;top:183px" width="20" height="18" viewBox="320 183 20 18" fill="none" stroke="#d6cde0" stroke-width="1.35" stroke-linecap="round" stroke-linejoin="round"><path d="M326.6 186 L322.7 189.6 L326.6 193.2"/><path d="M323 189.6 H330.4 Q336.6 189.9 336.6 196.9"/></svg>
<svg style="left:360px;top:183px" width="20" height="20" viewBox="360 183 20 20" fill="none" stroke="#2f1f3a" stroke-width="1.35" stroke-linecap="round" stroke-linejoin="round"><path d="M373.6 186 L377.5 189.6 L373.6 193.2"/><path d="M377.2 189.6 H370 Q364.2 189.9 364.2 196.5 V199"/></svg>
<div class="t" style="left:1095px;top:181.5px;font-size:14.6px;line-height:20px;color:#d6cde0;font-weight:400;">unnamed</div>
<svg style="left:1170px;top:188.5px" width="9" height="6" viewBox="0 0 9 6" fill="none" stroke="#d6cde0" stroke-width="1.4" stroke-linecap="round" stroke-linejoin="round"><path d="M0.8 0.8 L4.5 4.6 L8.2 0.8"/></svg>
<div class="a" style="left:1190px;top:176px;width:1px;height:32px;background:#3a2a45;"></div>
<svg style="left:1204px;top:181px" width="24" height="20" viewBox="0 0 24 20" fill="none" stroke="#d6cde0" stroke-width="1.4" stroke-linejoin="round"><path d="M2.6 4.4 H6.6 L8.4 1.4 H15.4 L17.2 4.4 H21.2 Q22.8 4.4 22.8 6 V17 Q22.8 18.6 21.2 18.6 H2.6 Q1 18.6 1 17 V6 Q1 4.4 2.6 4.4 Z"/><circle cx="11.6" cy="10.8" r="4.3"/></svg>
<div class="a" style="left:1240.8px;top:176px;width:1px;height:32px;background:#3a2a45;"></div>
<svg style="left:1260px;top:181px" width="20" height="21" viewBox="0 0 20 21" fill="none" stroke="#efe9f5" stroke-width="2" stroke-linecap="round"><path d="M1.3 7.8 V5.8 Q1.3 1.3 5.8 1.3 H7.6"/><path d="M12.4 1.3 H14.2 Q18.7 1.3 18.7 5.8 V7.8"/><path d="M18.7 12.6 V14.6 Q18.7 19.1 14.2 19.1 H12.4"/><path d="M7.6 19.1 H5.8 Q1.3 19.1 1.3 14.6 V12.6"/></svg>
<div class="t" style="left:88px;top:222.5px;font-size:16.5px;line-height:23px;color:#d6cde0;font-weight:400;">&middot;</div>
<div class="t" style="left:95.5px;top:222.5px;font-size:16.5px;line-height:23px;color:#ddd5e6;font-weight:400;letter-spacing:0.1px">2h &middot; Forex Majors</div>
<div class="t" style="left:235px;top:225.0px;font-size:13.5px;line-height:19px;color:#cfc5d8;font-weight:400;">O</div>
<div class="t" style="left:246.7px;top:225.0px;font-size:13.5px;line-height:19px;color:#cf3f5c;font-weight:400;letter-spacing:0.1px">1.05552</div>
<div class="t" style="left:303.3px;top:225.0px;font-size:13.5px;line-height:19px;color:#cfc5d8;font-weight:400;">H</div>
<div class="t" style="left:315px;top:225.0px;font-size:13.5px;line-height:19px;color:#cf3f5c;font-weight:400;letter-spacing:0.1px">1.05574</div>
<div class="t" style="left:371.7px;top:225.0px;font-size:13.5px;line-height:19px;color:#cfc5d8;font-weight:400;">L</div>
<div class="t" style="left:380.3px;top:225.0px;font-size:13.5px;line-height:19px;color:#cf3f5c;font-weight:400;letter-spacing:0.1px">1.05526</div>
<div class="t" style="left:437.3px;top:225.0px;font-size:13.5px;line-height:19px;color:#cfc5d8;font-weight:400;">C</div>
<div class="t" style="left:446.7px;top:225.0px;font-size:13.5px;line-height:19px;color:#cf3f5c;font-weight:400;letter-spacing:0.1px">1.05538</div>
<div class="t" style="left:505px;top:225.0px;font-size:13.5px;line-height:19px;color:#cf3f5c;font-weight:400;letter-spacing:0.1px">&minus;0.00013</div>
<div class="t" style="left:568.3px;top:225.0px;font-size:13.5px;line-height:19px;color:#cf3f5c;font-weight:400;letter-spacing:0.1px">(&minus;0.01%)</div>
<div class="a" style="left:149.5px;top:273.5px;width:131px;height:22.5px;background:#211029;border:1px solid #7d6e88"></div>
<div class="a" style="left:279.5px;top:273.5px;width:22px;height:22.5px;background:#211029;border:1px solid #7d6e88"></div>
<div class="a" style="left:155.5px;top:279.5px;width:1.5px;height:10.5px;background:#6d5d78;"></div>
<div class="t" style="left:164.5px;top:277.2px;font-size:11px;line-height:15px;color:#e0596e;font-weight:700;letter-spacing:0.5px">SL -$60.96 / -0.06%</div>
<svg style="left:285.5px;top:279.75px" width="10" height="10" viewBox="0 0 10 10" stroke="#e0596e" stroke-width="1.6" stroke-linecap="round"><path d="M0.8 0.8 L9.2 9.2 M9.2 0.8 L0.8 9.2"/></svg>
<div class="a" style="left:150px;top:360.5px;width:123px;height:22px;background:#211029;border:1px solid #7d6e88"></div>
<div class="a" style="left:272px;top:360.5px;width:22.5px;height:22px;background:#211029;border:1px solid #7d6e88"></div>
<div class="a" style="left:156px;top:366.5px;width:1.5px;height:10px;background:#6d5d78;"></div>
<div class="t" style="left:165px;top:364.0px;font-size:11px;line-height:15px;color:#2fb48e;font-weight:700;letter-spacing:0.5px">TP $64.16 / 0.07%</div>
<svg style="left:278.25px;top:366.5px" width="10" height="10" viewBox="0 0 10 10" stroke="#2fb48e" stroke-width="1.6" stroke-linecap="round"><path d="M0.8 0.8 L9.2 9.2 M9.2 0.8 L0.8 9.2"/></svg>
<div class="a" style="left:149.5px;top:316px;width:47.5px;height:22px;background:#fff;border:1px solid #ddd"></div>
<div class="t" style="left:156.5px;top:319.5px;font-size:11px;line-height:15px;color:#111;font-weight:700;letter-spacing:0.3px">$17.76</div>
<div class="t" style="right:549px;top:226.0px;font-size:12px;line-height:17px;color:#d6cde0;font-weight:400;letter-spacing:-0.1px">1.06500</div>
<div class="t" style="right:549px;top:391.7px;font-size:12px;line-height:17px;color:#d6cde0;font-weight:400;letter-spacing:-0.1px">1.05000</div>
<div class="t" style="right:549px;top:447.0px;font-size:12px;line-height:17px;color:#d6cde0;font-weight:400;letter-spacing:-0.1px">1.04500</div>
<div class="t" style="right:549px;top:502.2px;font-size:12px;line-height:17px;color:#d6cde0;font-weight:400;letter-spacing:-0.1px">1.04000</div>
<div class="t" style="right:549px;top:557.5px;font-size:12px;line-height:17px;color:#d6cde0;font-weight:400;letter-spacing:-0.1px">1.03500</div>
<div class="a" style="left:1231px;top:275.5px;width:57.3px;height:18.5px;background:#89828f;border-radius:1.5px"></div>
<div class="t" style="right:549px;top:276.8px;font-size:12px;line-height:17px;color:#fff;font-weight:400;letter-spacing:-0.1px">1.06034</div>
<div class="a" style="left:1231px;top:294px;width:57.3px;height:19px;background:#fa7f75;"></div>
<div class="t" style="right:549px;top:295.5px;font-size:12px;line-height:17px;color:#fff;font-weight:400;letter-spacing:-0.1px">1.05653</div>
<div class="a" style="left:1231px;top:313px;width:57.3px;height:18px;background:#f4494f;"></div>
<div class="t" style="right:549px;top:314.0px;font-size:12px;line-height:17px;color:#fff;font-weight:400;letter-spacing:-0.1px">1.05542</div>
<div class="a" style="left:1231px;top:331px;width:57.3px;height:18.5px;background:#f4494f;"></div>
<div class="t" style="right:549px;top:332.2px;font-size:12px;line-height:17px;color:#fff;font-weight:400;letter-spacing:-0.1px">1.05538</div>
<div class="a" style="left:1231px;top:363px;width:57.3px;height:19px;background:#89828f;border-radius:1.5px"></div>
<div class="t" style="right:549px;top:364.5px;font-size:12px;line-height:17px;color:#fff;font-weight:400;letter-spacing:-0.1px">1.05252</div>
<div class="t" style="left:-46px;width:300px;text-align:center;top:625.0px;font-size:12px;line-height:17px;color:#d6cde0;font-weight:400;">20</div>
<div class="t" style="left:110px;width:300px;text-align:center;top:625.0px;font-size:12px;line-height:17px;color:#d6cde0;font-weight:400;">22</div>
<div class="t" style="left:266px;width:300px;text-align:center;top:625.0px;font-size:12px;line-height:17px;color:#d6cde0;font-weight:400;">26</div>
<div class="t" style="left:422px;width:300px;text-align:center;top:625.0px;font-size:12px;line-height:17px;color:#d6cde0;font-weight:400;">28</div>
<div class="t" style="left:552px;width:300px;text-align:center;top:625.0px;font-size:12px;line-height:17px;color:#d6cde0;font-weight:400;">Dec</div>
<div class="t" style="left:656px;width:300px;text-align:center;top:625.0px;font-size:12px;line-height:17px;color:#d6cde0;font-weight:400;">3</div>
<div class="t" style="left:812px;width:300px;text-align:center;top:625.0px;font-size:12px;line-height:17px;color:#d6cde0;font-weight:400;">5</div>
<div class="t" style="left:942px;width:300px;text-align:center;top:625.0px;font-size:12px;line-height:17px;color:#d6cde0;font-weight:400;">8</div>
<div class="t" style="left:1046px;width:300px;text-align:center;top:625.0px;font-size:12px;line-height:17px;color:#d6cde0;font-weight:400;">10</div>
<svg style="left:1255px;top:625.8px" width="17" height="17" viewBox="0 0 17 17" fill="none" stroke="#c2b7cf" stroke-width="1.3" stroke-linejoin="round"><path d="M4.6 2 H12.4 L16.2 8.5 L12.4 15 H4.6 L0.8 8.5 Z"/><circle cx="8.5" cy="8.5" r="2.3"/></svg>
<div class="t" style="left:88px;top:660.0px;font-size:14px;line-height:20px;color:#d6cde0;font-weight:400;margin-left:-4px">M</div>
<div class="t" style="left:107px;top:660.0px;font-size:14px;line-height:20px;color:#d6cde0;font-weight:400;">1M</div>
<div class="t" style="left:139px;top:660.0px;font-size:14px;line-height:20px;color:#d6cde0;font-weight:400;">5d</div>
<div class="t" style="left:169px;top:660.0px;font-size:14px;line-height:20px;color:#d6cde0;font-weight:400;">1d</div>
<div class="a" style="left:196px;top:657px;width:1px;height:26px;background:#3a2a45;"></div>
<svg style="left:209px;top:656px" width="26" height="25" viewBox="209 656 26 25" fill="none" stroke="#d6cde0" stroke-width="1.3" stroke-linecap="round" stroke-linejoin="round"><path d="M213.2 668.3 V663 Q213.2 661.4 214.8 661.4 H229.6 Q231.2 661.4 231.2 663 V676 Q231.2 677.6 229.6 677.6 H222.3"/><path d="M213.2 665.5 H231.2"/><path d="M218.3 659 V663 M225.9 659 V663"/><path d="M211 674.4 H219.6 M216.6 671.2 L219.9 674.4 L216.2 677.8"/></svg>
<div class="t" style="right:664px;top:660.0px;font-size:14px;line-height:20px;color:#d6cde0;font-weight:400;letter-spacing:0.13px">15:17:00 (UTC-5)</div>
<div class="a" style="left:1179px;top:657px;width:1px;height:26px;background:#3a2a45;"></div>
<div class="t" style="left:1192px;top:660.0px;font-size:14.5px;line-height:20px;color:#d6cde0;font-weight:400;">%</div>
<div class="t" style="left:1219px;top:660.0px;font-size:14.5px;line-height:20px;color:#d6cde0;font-weight:400;">log</div>
<div class="t" style="left:1252px;top:660.0px;font-size:14.5px;line-height:20px;color:#2f62ff;font-weight:400;letter-spacing:0.7px">auto</div>
<div class="a" style="left:1290.5px;top:171px;width:20px;height:520px;background:linear-gradient(90deg,rgba(0,0,0,0) 0,#000 25%,#000 72%,rgba(0,0,0,0) 100%)"></div>
<div class="a" style="left:88px;top:687px;width:1744px;height:18px;background:linear-gradient(180deg,rgba(0,0,0,0) 0,#000 42%,#000 78%,rgba(0,0,0,0) 100%)"></div>
<div class="a" style="left:1315.5px;top:179.5px;width:288px;height:34px;border:1px solid #3f2c49;border-radius:6px"></div>
<svg style="left:1322px;top:186px" width="22" height="22" viewBox="0 0 22 22" fill="none" stroke="#b7a7c6" stroke-width="1.6" stroke-linecap="round"><circle cx="9.9" cy="9.9" r="7.6"/><path d="M15.6 15.6 L19.6 19.4"/></svg>
<div class="t" style="left:1352px;top:187.0px;font-size:14px;line-height:20px;color:#4e3b59;font-weight:400;">Search...</div>
<div class="a" style="left:1612px;top:179.5px;width:60px;height:34px;border:1px solid #3f2c49;border-radius:6px"></div>
<div class="t" style="left:1626.5px;top:187.0px;font-size:14.5px;line-height:20px;color:#fff;font-weight:700;">All</div>
<div class="a" style="left:1307px;top:223px;width:344px;height:1px;background:#1f0e28;"></div>
<div class="t" style="left:1316px;top:237.5px;font-size:12px;line-height:17px;color:#b3a6c3;font-weight:700;letter-spacing:0.4px">Instruments</div>
<div class="t" style="left:1460.5px;top:237.5px;font-size:12px;line-height:17px;color:#b3a6c3;font-weight:700;letter-spacing:0.4px">Bid</div>
<div class="t" style="left:1531.5px;top:237.5px;font-size:12px;line-height:17px;color:#b3a6c3;font-weight:700;letter-spacing:0.4px">Ask</div>
<div class="t" style="left:1602px;top:237.5px;font-size:12px;line-height:17px;color:#b3a6c3;font-weight:700;letter-spacing:0.4px">Spread</div>
<div class="a" style="left:1316px;top:267px;width:12px;height:1px;background:#18093a;"></div>
<div class="a" style="left:1389.5px;top:267px;width:10.5px;height:1px;background:#b84a6c;"></div>
<div class="a" style="left:1307px;top:283.5px;width:344px;height:30px;background:#28207c;border-bottom-left-radius:9px"></div>
<svg style="left:1314.5px;top:298px" width="14" height="14" viewBox="0 0 14 14"><circle cx="7" cy="7" r="6.7" fill="#1d5fe0"/><circle cx="7" cy="7" r="3.6" fill="none" stroke="#3f86ff" stroke-width="1.2" stroke-dasharray="1 1.2"/></svg>
<div class="t" style="left:1333.5px;top:296.5px;font-size:12.3px;line-height:17px;color:#fff;font-weight:700;letter-spacing:-0.45px">EURUSD</div>
<svg style="left:1386px;top:298.5px" width="13.5" height="12.5" viewBox="0 0 14 13"><defs><clipPath id="fc1386"><rect x="0" y="0" width="14" height="13" rx="3"/></clipPath></defs><g clip-path="url(#fc1386)"><rect width="14" height="13" fill="#f3e9ee"/><rect y="0" width="14" height="1.9" fill="#e0506a"/><rect y="3.7" width="14" height="1.9" fill="#e0506a"/><rect y="7.4" width="14" height="1.9" fill="#e0506a"/><rect y="11.1" width="14" height="1.9" fill="#e0506a"/><rect width="7" height="6.5" fill="#3d4fa8"/></g></svg>
<div class="t" style="left:1461px;top:295.5px;font-size:14.5px;line-height:20px;color:#3f94ad;font-weight:400;">1.05539</div>
<div class="t" style="left:1531.5px;top:295.5px;font-size:14.5px;line-height:20px;color:#3f94ad;font-weight:400;">1.05542</div>
<div class="t" style="left:1602.5px;top:295.5px;font-size:14.5px;line-height:20px;color:#efeaf5;font-weight:400;">3</div>
<div class="a" style="left:1651px;top:171px;width:181px;height:152px;background:linear-gradient(180deg,#000 0,#000 93%,#0b020f 100%)"></div>
<svg style="left:1651px;top:171px" width="181" height="152" viewBox="1651 171 181 152">
<defs>
<linearGradient id="rh" x1="0.75" y1="0" x2="0.3" y2="1"><stop offset="0" stop-color="#f6f8fc"/><stop offset="0.5" stop-color="#e2eaf6"/><stop offset="1" stop-color="#9bbde5"/></linearGradient>
<linearGradient id="rv" x1="0" y1="0" x2="0" y2="1"><stop offset="0" stop-color="#303d80"/><stop offset="0.32" stop-color="#2b1b58"/><stop offset="1" stop-color="#25114b"/></linearGradient>
<linearGradient id="re" x1="0" y1="0" x2="1" y2="0"><stop offset="0" stop-color="#16254a"/><stop offset="1" stop-color="#22365f"/></linearGradient>
<linearGradient id="re2" x1="1" y1="0" x2="0" y2="0"><stop offset="0" stop-color="#16254a"/><stop offset="1" stop-color="#22365f"/></linearGradient>
<clipPath id="vc"><path d="M1698 208.8 Q1741 206.5 1785 208.8 Q1797 209.8 1795.8 219.5 L1790 255.5 Q1788 267.4 1776 267.9 Q1741 269.1 1707.5 267.9 Q1695.5 267.4 1693.3 255.5 L1687.3 219.5 Q1686 209.8 1698 208.8 Z"/></clipPath>
</defs>
<path d="M1673 214 h-8 q-4 0 -4 4 v4 h-4 q-5.5 2 -5.5 16 q0 14 5.5 17 h4 v4 q0 4 4 4 h8 z" fill="url(#re)"/>
<path d="M1809 214 h8 q4 0 4 4 v4 h4 q5.5 2 5.5 16 q0 14 -5.5 17 h-4 v4 q0 4 -4 4 h-8 z" fill="url(#re2)"/>
<path d="M1741 183 C1791 183 1811 196 1811 238 C1811 281 1791 293 1741 293 C1691 293 1671 281 1671 238 C1671 196 1691 183 1741 183 Z" fill="url(#rh)"/>
<path d="M1697 206.3 Q1741 204 1786 206.3 Q1800 207.3 1798.5 219 L1792.5 256 Q1790 270 1776 270.4 Q1741 271.6 1707 270.4 Q1693 270 1690.5 256 L1684.5 219 Q1683 207.3 1697 206.3 Z" fill="#f5f7fd"/>
<path id="vis" d="M1698 208.8 Q1741 206.5 1785 208.8 Q1797 209.8 1795.8 219.5 L1790 255.5 Q1788 267.4 1776 267.9 Q1741 269.1 1707.5 267.9 Q1695.5 267.4 1693.3 255.5 L1687.3 219.5 Q1686 209.8 1698 208.8 Z" fill="url(#rv)"/>
<path clip-path="url(#vc)" d="M1680 221 Q1740 208 1800 231 V200 H1680 Z" fill="#34428a" opacity="0.5"/>
<path clip-path="url(#vc)" d="M1690 268 Q1735 230 1796 246 L1795 252 Q1738 239 1697 272 Z" fill="#3a3f86" opacity="0.55"/>
<ellipse cx="1726.3" cy="238" rx="6.2" ry="20" fill="#5cc1f6"/>
<ellipse cx="1757" cy="238" rx="6.2" ry="20" fill="#5cc1f6"/>
<circle cx="1742" cy="197.5" r="4.4" fill="#1a2450"/><circle cx="1742.6" cy="197.8" r="2.1" fill="#3a4a86"/>
<rect x="1724.5" y="274" width="35" height="9.5" rx="2" fill="#32235f"/>
<path d="M1730 279.5 h6 l0 -2 l5 2.5 l6 -3 v3 h5" fill="none" stroke="#7d78b5" stroke-width="0.8"/>
</svg>
<div class="a" style="left:1300px;top:312px;width:352px;height:14px;background:linear-gradient(180deg,rgba(0,0,0,0) 0,#07010a 35%,#07010a 65%,rgba(0,0,0,0) 100%)"></div>
<div class="a" style="left:1316px;top:332px;width:25px;height:25px;background:#1b0a24;border-radius:5px"></div>
<svg style="left:1322px;top:338px" width="13" height="13" viewBox="0 0 13 13" fill="#7f728b"><path d="M0.8 12.2 L1.4 9 L8.6 1.8 L11.2 4.4 L4 11.6 Z M9.4 1 L10.2 0.4 Q10.8 0 11.4 0.6 L12.4 1.6 Q13 2.2 12.5 2.8 L11.9 3.5 Z"/></svg>
<div class="t" style="left:1346.4px;top:335.7px;font-size:11.6px;line-height:16px;color:#fff;font-weight:700;letter-spacing:0.12px">Edit Open Position</div>
<div class="a" style="left:1307px;top:365px;width:525px;height:1px;background:#1e0d27;"></div>
<div class="a" style="left:1318px;top:366px;width:520px;height:45.5px;border:1px solid #1b0a23;border-radius:6px"></div>
<svg style="left:1329px;top:381.3px" width="14" height="14" viewBox="0 0 14 14"><circle cx="7" cy="7" r="6.7" fill="#1d5fe0"/><circle cx="7" cy="7" r="3.6" fill="none" stroke="#3f86ff" stroke-width="1.2" stroke-dasharray="1 1.2"/></svg>
<div class="t" style="left:1347.3px;top:379.8px;font-size:12.3px;line-height:17px;color:#fff;font-weight:700;letter-spacing:-0.45px">EURUSD</div>
<svg style="left:1400.3px;top:382.2px" width="13.5" height="12.5" viewBox="0 0 14 13"><defs><clipPath id="fc1400"><rect x="0" y="0" width="14" height="13" rx="3"/></clipPath></defs><g clip-path="url(#fc1400)"><rect width="14" height="13" fill="#f3e9ee"/><rect y="0" width="14" height="1.9" fill="#e0506a"/><rect y="3.7" width="14" height="1.9" fill="#e0506a"/><rect y="7.4" width="14" height="1.9" fill="#e0506a"/><rect y="11.1" width="14" height="1.9" fill="#e0506a"/><rect width="7" height="6.5" fill="#3d4fa8"/></g></svg>
<div class="t" style="left:1741.5px;top:380.0px;font-size:12px;line-height:17px;color:#8b7f96;font-weight:700;letter-spacing:0.45px">0.16 Lots <span style="color:#4d3d59;font-weight:400">/</span> 1.05253</div>
<div class="a" style="left:1307px;top:419px;width:525px;height:1px;background:#1e0d27;"></div>
<div class="a" style="left:1315.5px;top:429.3px;width:45px;height:34.7px;background:#1e0d28;border-radius:4px 0 0 4px"></div>
<div class="t" style="left:1324.7px;top:438.5px;font-size:11.8px;line-height:17px;color:#fff;font-weight:700;">Trail</div>
<div class="a" style="left:1360px;top:429.3px;width:228.5px;height:34.7px;background:#2867fd;border-radius:0 4px 4px 0"></div>
<div class="t" style="left:1373.7px;top:439.0px;font-size:11.6px;line-height:16px;color:#fff;font-weight:700;">Stop Loss</div>
<div class="a" style="left:1557.5px;top:439.5px;width:16.5px;height:15.8px;background:#164fe0"></div>
<svg style="left:1556px;top:438px" width="20" height="20" viewBox="1556 438 20 20" fill="none" stroke="#fff" stroke-width="2.1" stroke-linecap="round" stroke-linejoin="round"><path d="M1561 448.4 L1564.1 451.4 L1570.4 442.8"/></svg>
<div class="a" style="left:1675px;top:429.3px;width:170px;height:34.7px;background:#2867fd;border-radius:4px 0 0 4px"></div>
<div class="t" style="left:1688.6px;top:439.0px;font-size:11.6px;line-height:16px;color:#fff;font-weight:700;letter-spacing:0.27px">Take Profit</div>
<div class="a" style="left:1315px;top:508px;width:274px;height:35px;border:1px solid #2b1a36;border-top:none;border-radius:0 0 7px 7px"></div>
<div class="a" style="left:1314.5px;top:471.7px;width:275px;height:37px;border:1.8px solid #d8cee2;border-radius:8px;background:#120218"></div>
<div class="t" style="left:1330px;top:480.8px;font-size:16px;line-height:22px;color:#fff;font-weight:400;letter-spacing:0.7px;-webkit-text-stroke:0.25px #fff">1.06034</div>
<div class="t" style="left:1330px;top:514.7px;font-size:16px;line-height:22px;color:#365ddb;font-weight:400;letter-spacing:0.6px">381</div>
<div class="a" style="left:1315px;top:550px;width:274px;height:70.5px;border:1px solid #392845;border-radius:7px"></div>
<div class="t" style="left:1330px;top:558.0px;font-size:16px;line-height:22px;color:#365ddb;font-weight:400;letter-spacing:0.6px">60.96</div>
<div class="t" style="left:1330px;top:592.7px;font-size:16px;line-height:22px;color:#365ddb;font-weight:400;letter-spacing:0.6px">0.06</div>
<div class="t" style="left:1562px;top:560.5px;font-size:11px;line-height:15px;color:#9b8fa8;font-weight:700;">$</div>
<div class="t" style="left:1560.3px;top:595.5px;font-size:11px;line-height:15px;color:#9b8fa8;font-weight:700;">%</div>
<div class="a" style="left:1674.5px;top:508px;width:274px;height:35px;border:1px solid #2b1a36;border-top:none;border-radius:0 0 7px 7px"></div>
<div class="a" style="left:1674.0px;top:471.7px;width:275px;height:37px;border:1.8px solid #d8cee2;border-radius:8px;background:#120218"></div>
<div class="t" style="left:1689.5px;top:480.8px;font-size:16px;line-height:22px;color:#fff;font-weight:400;letter-spacing:0.7px;-webkit-text-stroke:0.25px #fff">1.05252</div>
<div class="t" style="left:1689.5px;top:514.7px;font-size:16px;line-height:22px;color:#365ddb;font-weight:400;letter-spacing:0.6px">401</div>
<div class="a" style="left:1674.5px;top:550px;width:274px;height:70.5px;border:1px solid #392845;border-radius:7px"></div>
<div class="t" style="left:1689.5px;top:558.0px;font-size:16px;line-height:22px;color:#365ddb;font-weight:400;letter-spacing:0.6px">64.16</div>
<div class="t" style="left:1689.5px;top:592.7px;font-size:16px;line-height:22px;color:#365ddb;font-weight:400;letter-spacing:0.6px">0.07</div>
<div class="t" style="left:1481.5px;width:300px;text-align:center;top:483.5px;font-size:11.3px;line-height:16px;color:#a598b3;font-weight:700;">Price</div>
<div class="t" style="left:1481.5px;width:300px;text-align:center;top:520.0px;font-size:11.3px;line-height:16px;color:#a598b3;font-weight:700;">Ticks</div>
<div class="t" style="left:1481.5px;width:300px;text-align:center;top:556.5px;font-size:11.3px;line-height:16px;color:#a598b3;font-weight:700;">P&amp;L</div>
<div class="t" style="left:1481.5px;width:300px;text-align:center;top:593.5px;font-size:11.3px;line-height:16px;color:#a598b3;font-weight:700;">Balance</div>
<div class="a" style="left:1315px;top:638.5px;width:313px;height:42.5px;background:#23102f;border-radius:4px"></div>
<div class="t" style="left:1321.5px;width:300px;text-align:center;top:650.5px;font-size:14px;line-height:20px;color:#fff;font-weight:700;">Discard</div>
<div class="a" style="left:1636px;top:638.5px;width:210px;height:42.5px;background:#200e2b;border-radius:4px"></div>
<div class="t" style="left:1642px;width:300px;text-align:center;top:650.5px;font-size:14px;line-height:20px;color:#4a3a56;font-weight:700;">Confirm</div>
<div class="t" style="left:99.5px;top:719.0px;font-size:15px;line-height:21px;color:#ada0bc;font-weight:400;-webkit-text-stroke:0.35px #ada0bc;">Pending</div>
<div class="a" style="left:163.5px;top:721px;width:16.5px;height:16.5px;background:#4b3661;border-radius:3.5px"></div>
<div class="t" style="left:21.80000000000001px;width:300px;text-align:center;top:722.0px;font-size:11px;line-height:15px;color:#fff;font-weight:700;">0</div>
<div class="t" style="left:215px;top:719.0px;font-size:15px;line-height:21px;color:#ada0bc;font-weight:400;-webkit-text-stroke:0.35px #ada0bc;">Closed Positions</div>
<div class="t" style="left:363.5px;top:719.0px;font-size:15px;line-height:21px;color:#ada0bc;font-weight:400;-webkit-text-stroke:0.35px #ada0bc;">Balance</div>
<div class="t" style="left:452.5px;top:719.0px;font-size:15px;line-height:21px;color:#ada0bc;font-weight:400;-webkit-text-stroke:0.35px #ada0bc;">Trades</div>
<div class="t" style="left:534px;top:719.0px;font-size:15px;line-height:21px;color:#ada0bc;font-weight:400;-webkit-text-stroke:0.35px #ada0bc;">Alerts</div>
<div class="t" style="left:1057.5px;top:713.0px;font-size:11px;line-height:15px;color:#9f92af;font-weight:700;letter-spacing:0.45px">BALANCE</div>
<div class="t" style="left:1057.5px;top:728.5px;font-size:14px;line-height:20px;color:#f1ecf6;font-weight:700;letter-spacing:0.3px">$97,146.54</div>
<div class="t" style="left:1166.3px;top:713.0px;font-size:11px;line-height:15px;color:#9f92af;font-weight:700;letter-spacing:0.45px">PROFIT &amp; LOSS</div>
<div class="t" style="left:1166.3px;top:728.5px;font-size:14px;line-height:20px;color:#3aaa98;font-weight:400;letter-spacing:0.3px">$9.91</div>
<div class="t" style="left:1289.2px;top:713.0px;font-size:11px;line-height:15px;color:#9f92af;font-weight:700;letter-spacing:0.45px">EQUITY</div>
<div class="t" style="left:1289.2px;top:728.5px;font-size:14px;line-height:20px;color:#f1ecf6;font-weight:700;letter-spacing:0.3px">$97,156.45</div>
<div class="t" style="left:1397.5px;top:713.0px;font-size:11px;line-height:15px;color:#9f92af;font-weight:700;letter-spacing:0.45px">MARGIN USED</div>
<div class="t" style="left:1397.5px;top:728.5px;font-size:14px;line-height:20px;color:#f1ecf6;font-weight:700;letter-spacing:0.3px">$469.54</div>
<div class="t" style="left:1517px;top:713.0px;font-size:11px;line-height:15px;color:#9f92af;font-weight:700;letter-spacing:0.45px">MARGIN AVAILABLE</div>
<div class="t" style="left:1517px;top:728.5px;font-size:14px;line-height:20px;color:#f1ecf6;font-weight:700;letter-spacing:0.3px">$96,646.30</div>
<div class="t" style="left:1668px;top:713.0px;font-size:11px;line-height:15px;color:#9f92af;font-weight:700;letter-spacing:0.45px">MARGIN LEVEL</div>
<div class="t" style="left:1668px;top:728.5px;font-size:14px;line-height:20px;color:#f1ecf6;font-weight:700;letter-spacing:0.3px">0.48%</div>
<svg style="left:1762.5px;top:713.5px" width="13" height="13" viewBox="0 0 13 13" fill="none" stroke="#a99cb8" stroke-width="1.1"><circle cx="6.5" cy="6.5" r="5.8"/><path d="M6.5 5.8 V9.6" stroke-linecap="round" stroke-width="1.3"/><circle cx="6.5" cy="3.7" r="0.5" fill="#a99cb8"/></svg>
<div class="a" style="left:1800.5px;top:716.5px;width:60px;height:24.5px;border:1px solid #34223f;border-radius:5px;background:#180720"></div>
<div class="t" style="left:1809.5px;top:720.5px;font-size:12px;line-height:17px;color:#fff;font-weight:700;">Close</div>
<div class="a" style="left:88px;top:755px;width:1744px;height:1px;background:#1f0e29;"></div>
<div class="t" style="left:124.5px;top:769.5px;font-size:12px;line-height:17px;color:#a093af;font-weight:700;letter-spacing:0.55px">Side</div>
<div class="t" style="left:192px;top:769.5px;font-size:12px;line-height:17px;color:#a093af;font-weight:700;letter-spacing:0.55px">Size</div>
<div class="t" style="left:255.5px;top:769.5px;font-size:12px;line-height:17px;color:#a093af;font-weight:700;letter-spacing:0.55px">Entry / Market</div>
<div class="t" style="left:498.5px;top:769.5px;font-size:12px;line-height:17px;color:#a093af;font-weight:700;letter-spacing:0.55px">Stop Loss</div>
<div class="t" style="left:617.5px;top:769.5px;font-size:12px;line-height:17px;color:#a093af;font-weight:700;letter-spacing:0.55px">Take Profit</div>
<div class="t" style="left:746.5px;top:769.5px;font-size:12px;line-height:17px;color:#a093af;font-weight:700;letter-spacing:0.55px">Margin</div>
<div class="t" style="left:853.5px;top:769.5px;font-size:12px;line-height:17px;color:#a093af;font-weight:700;letter-spacing:0.55px">Exposure</div>
<div class="t" style="left:995px;top:769.5px;font-size:12px;line-height:17px;color:#a093af;font-weight:700;letter-spacing:0.55px">Created At (EET)</div>
<div class="t" style="left:1244.2px;top:769.5px;font-size:12px;line-height:17px;color:#a093af;font-weight:700;letter-spacing:0.55px">Fee</div>
<div class="t" style="left:1322.5px;top:769.5px;font-size:12px;line-height:17px;color:#a093af;font-weight:700;letter-spacing:0.55px">Swaps</div>
<div class="t" style="left:1406.7px;top:769.5px;font-size:12px;line-height:17px;color:#a093af;font-weight:700;letter-spacing:0.55px">Profit &amp; Loss</div>
<div class="t" style="left:1555.8px;top:769.5px;font-size:12px;line-height:17px;color:#a093af;font-weight:700;letter-spacing:0.55px">Position ID</div>
<div class="a" style="left:88px;top:868.5px;width:1744px;height:35px;background:#27207a;"></div>
<div class="a" style="left:88px;top:903.5px;width:1744px;height:4.5px;background:#0d0418;"></div>
<div class="t" style="left:124.5px;top:808.5px;font-size:13px;line-height:18px;color:#dc5a6d;font-weight:400;letter-spacing:-0.4px;-webkit-text-stroke:0.3px #dc5a6d">SELL</div>
<div class="t" style="left:192px;top:807.5px;font-size:14px;line-height:20px;color:#a295b1;font-weight:400;letter-spacing:0.1px">0.23</div>
<div class="t" style="left:255.5px;top:807.5px;font-size:14px;line-height:20px;color:#a295b1;font-weight:400;letter-spacing:0.45px">0.82900</div>
<svg style="left:317.5px;top:812.5px" width="11" height="10" viewBox="0 0 11 10" fill="none" stroke="#a295b1" stroke-width="1.3" stroke-linecap="round" stroke-linejoin="round"><path d="M0.8 5 H9.6 M5.8 1.2 L9.8 5 L5.8 8.8"/></svg>
<div class="t" style="left:335.7px;top:807.5px;font-size:14px;line-height:20px;color:#3aaa98;font-weight:400;letter-spacing:0.45px">0.83090</div>
<div class="t" style="left:498.5px;top:807.5px;font-size:14px;line-height:20px;color:#a295b1;font-weight:400;letter-spacing:0.45px">0.83215</div>
<div class="t" style="left:617.5px;top:807.5px;font-size:14px;line-height:20px;color:#a295b1;font-weight:400;letter-spacing:0.45px">0.82569</div>
<div class="t" style="left:746.5px;top:807.5px;font-size:14px;line-height:20px;color:#a295b1;font-weight:400;letter-spacing:0.3px">$134.94</div>
<div class="t" style="left:853.5px;top:807.5px;font-size:14px;line-height:20px;color:#a295b1;font-weight:400;letter-spacing:0.3px">$13,495.48</div>
<div class="t" style="left:995px;top:807.5px;font-size:14px;line-height:20px;color:#a295b1;font-weight:400;letter-spacing:0.5px">2024/12/09 11:01:26</div>
<div class="t" style="left:1244.2px;top:807.5px;font-size:14px;line-height:20px;color:#a295b1;font-weight:400;letter-spacing:0.3px">$1.15</div>
<div class="t" style="left:1324px;top:807.5px;font-size:14px;line-height:20px;color:#6f6180;font-weight:400;">-</div>
<div class="t" style="left:1408px;top:807.5px;font-size:14px;line-height:20px;color:#e9596a;font-weight:400;letter-spacing:0.55px"><span style="color:#a295b1;margin-right:1.5px">-</span>$30.86</div>
<div class="t" style="left:1555.8px;top:807.5px;font-size:14px;line-height:20px;color:#a295b1;font-weight:400;letter-spacing:0.62px">7349874591872010991</div>
<div class="t" style="left:124.5px;top:843.5px;font-size:13px;line-height:18px;color:#dc5a6d;font-weight:400;letter-spacing:-0.4px;-webkit-text-stroke:0.3px #dc5a6d">SELL</div>
<div class="t" style="left:192px;top:842.5px;font-size:14px;line-height:20px;color:#a295b1;font-weight:400;letter-spacing:0.1px">0.13</div>
<div class="t" style="left:255.5px;top:842.5px;font-size:14px;line-height:20px;color:#a295b1;font-weight:400;letter-spacing:0.45px">1.27700</div>
<svg style="left:317.5px;top:847.5px" width="11" height="10" viewBox="0 0 11 10" fill="none" stroke="#a295b1" stroke-width="1.3" stroke-linecap="round" stroke-linejoin="round"><path d="M0.8 5 H9.6 M5.8 1.2 L9.8 5 L5.8 8.8"/></svg>
<div class="t" style="left:335.7px;top:842.5px;font-size:14px;line-height:20px;color:#3aaa98;font-weight:400;letter-spacing:0.45px">1.27523</div>
<div class="t" style="left:498.5px;top:842.5px;font-size:14px;line-height:20px;color:#a295b1;font-weight:400;letter-spacing:0.45px">1.28252</div>
<div class="t" style="left:617.5px;top:842.5px;font-size:14px;line-height:20px;color:#a295b1;font-weight:400;letter-spacing:0.45px">1.27154</div>
<div class="t" style="left:746.5px;top:842.5px;font-size:14px;line-height:20px;color:#a295b1;font-weight:400;letter-spacing:0.3px">$165.78</div>
<div class="t" style="left:853.5px;top:842.5px;font-size:14px;line-height:20px;color:#a295b1;font-weight:400;letter-spacing:0.3px">$16,577.73</div>
<div class="t" style="left:995px;top:842.5px;font-size:14px;line-height:20px;color:#a295b1;font-weight:400;letter-spacing:0.5px">2024/12/09 11:00:13</div>
<div class="t" style="left:1244.2px;top:842.5px;font-size:14px;line-height:20px;color:#a295b1;font-weight:400;letter-spacing:0.3px">$0.65</div>
<div class="t" style="left:1324px;top:842.5px;font-size:14px;line-height:20px;color:#6f6180;font-weight:400;">-</div>
<div class="t" style="left:1407px;top:842.5px;font-size:14px;line-height:20px;color:#3fb87f;font-weight:400;letter-spacing:0.5px">$23.01</div>
<div class="t" style="left:1555.8px;top:842.5px;font-size:14px;line-height:20px;color:#a295b1;font-weight:400;letter-spacing:0.62px">7349874591872010966</div>
<div class="t" style="left:124.5px;top:878.0px;font-size:13px;line-height:18px;color:#dc5a6d;font-weight:400;letter-spacing:-0.4px;-webkit-text-stroke:0.3px #dc5a6d">SELL</div>
<div class="t" style="left:192px;top:877.0px;font-size:14px;line-height:20px;color:#a295b1;font-weight:400;letter-spacing:0.1px">0.16</div>
<div class="t" style="left:255.5px;top:877.0px;font-size:14px;line-height:20px;color:#a295b1;font-weight:400;letter-spacing:0.45px">1.05653</div>
<svg style="left:317.5px;top:882px" width="11" height="10" viewBox="0 0 11 10" fill="none" stroke="#a295b1" stroke-width="1.3" stroke-linecap="round" stroke-linejoin="round"><path d="M0.8 5 H9.6 M5.8 1.2 L9.8 5 L5.8 8.8"/></svg>
<div class="t" style="left:335.7px;top:877.0px;font-size:14px;line-height:20px;color:#3aaa98;font-weight:400;letter-spacing:0.45px">1.05542</div>
<div class="t" style="left:498.5px;top:877.0px;font-size:14px;line-height:20px;color:#a295b1;font-weight:400;letter-spacing:0.45px">1.06034</div>
<div class="t" style="left:617.5px;top:877.0px;font-size:14px;line-height:20px;color:#a295b1;font-weight:400;letter-spacing:0.45px">1.05252</div>
<div class="t" style="left:746.5px;top:877.0px;font-size:14px;line-height:20px;color:#a295b1;font-weight:400;letter-spacing:0.3px">$168.86</div>
<div class="t" style="left:853.5px;top:877.0px;font-size:14px;line-height:20px;color:#a295b1;font-weight:400;letter-spacing:0.3px">$16,886.40</div>
<div class="t" style="left:995px;top:877.0px;font-size:14px;line-height:20px;color:#a295b1;font-weight:400;letter-spacing:0.5px">2024/12/09 10:30:12</div>
<div class="t" style="left:1244.2px;top:877.0px;font-size:14px;line-height:20px;color:#a295b1;font-weight:400;letter-spacing:0.3px">$0.80</div>
<div class="t" style="left:1324px;top:877.0px;font-size:14px;line-height:20px;color:#6f6180;font-weight:400;">-</div>
<div class="t" style="left:1407px;top:877.0px;font-size:14px;line-height:20px;color:#3fb87f;font-weight:400;letter-spacing:0.5px">$17.76</div>
<div class="t" style="left:1555.8px;top:877.0px;font-size:14px;line-height:20px;color:#a295b1;font-weight:400;letter-spacing:0.62px">7349874591872010585</div>
</div></body></html>
